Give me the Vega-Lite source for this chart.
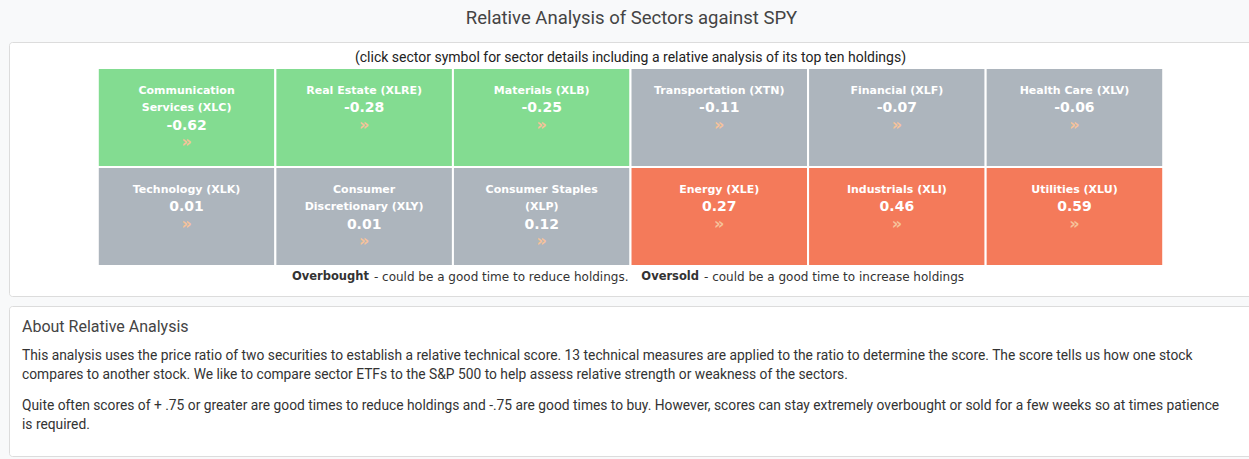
{
  "$schema": "https://vega.github.io/schema/vega-lite/v6.json",
  "background": "#f8f9fa",
  "padding": {"left": 8, "top": 9, "right": 0, "bottom": 4},
  "title": {"text": "Relative Analysis of Sectors against SPY", "font": "Roboto", "fontSize": 18.5, "fontWeight": "normal", "color": "#444444", "anchor": "middle", "offset": 14},
  "config": {
    "view": {"fill": "white", "stroke": "#dcdcdc", "cornerRadius": 3},
    "locale": {"number": {"decimal": ".", "thousands": ",", "grouping": [3], "currency": ["$", ""], "minus": "-"}}
  },
  "datasets": {
    "sectors": [
      {"ticker": "XLC", "name": "Communication\nServices (XLC)", "nameLines": 2, "score": -0.62, "row": 1, "col": 0},
      {"ticker": "XLRE", "name": "Real Estate (XLRE)", "nameLines": 1, "score": -0.28, "row": 1, "col": 1},
      {"ticker": "XLB", "name": "Materials (XLB)", "nameLines": 1, "score": -0.25, "row": 1, "col": 2},
      {"ticker": "XTN", "name": "Transportation (XTN)", "nameLines": 1, "score": -0.11, "row": 1, "col": 3},
      {"ticker": "XLF", "name": "Financial (XLF)", "nameLines": 1, "score": -0.07, "row": 1, "col": 4},
      {"ticker": "XLV", "name": "Health Care (XLV)", "nameLines": 1, "score": -0.06, "row": 1, "col": 5},
      {"ticker": "XLK", "name": "Technology (XLK)", "nameLines": 1, "score": 0.01, "row": 2, "col": 0},
      {"ticker": "XLY", "name": "Consumer\nDiscretionary (XLY)", "nameLines": 2, "score": 0.01, "row": 2, "col": 1},
      {"ticker": "XLP", "name": "Consumer Staples\n(XLP)", "nameLines": 2, "score": 0.12, "row": 2, "col": 2},
      {"ticker": "XLE", "name": "Energy (XLE)", "nameLines": 1, "score": 0.27, "row": 2, "col": 3},
      {"ticker": "XLI", "name": "Industrials (XLI)", "nameLines": 1, "score": 0.46, "row": 2, "col": 4},
      {"ticker": "XLU", "name": "Utilities (XLU)", "nameLines": 1, "score": 0.59, "row": 2, "col": 5}
    ],
    "notes": [
      {"part": "subtitle", "text": "(click sector symbol for sector details including a relative analysis of its top ten holdings)"},
      {"part": "ob", "text": "Overbought"},
      {"part": "obText", "text": "- could be a good time to reduce holdings."},
      {"part": "os", "text": "Oversold"},
      {"part": "osText", "text": "- could be a good time to increase holdings"}
    ],
    "about": [
      {"section": "about", "block": "heading", "text": "About Relative Analysis"},
      {"section": "about", "block": "p1", "text": "This analysis uses the price ratio of two securities to establish a relative technical score. 13 technical measures are applied to the ratio to determine the score. The score tells us how one stock\ncompares to another stock. We like to compare sector ETFs to the S&P 500 to help assess relative strength or weakness of the sectors."},
      {"section": "about", "block": "p2", "text": "Quite often scores of + .75 or greater are good times to reduce holdings and -.75 are good times to buy. However, scores can stay extremely overbought or sold for a few weeks so at times patience\nis required."}
    ]
  },
  "spacing": 8,
  "vconcat": [
    {
      "width": 1243,
      "height": 254,
      "layer": [
        {
          "data": {"name": "sectors"},
          "mark": {"type": "rect", "stroke": "white", "strokeWidth": 2},
          "encoding": {
            "x": {"field": "col", "type": "ordinal", "axis": null, "scale": {"type": "band", "domain": [0, 1, 2, 3, 4, 5], "paddingInner": 0, "paddingOuter": 0.5}},
            "y": {"field": "row", "type": "ordinal", "axis": null, "scale": {"type": "band", "domain": [1, 2], "paddingInner": 0, "paddingOuter": 0.2828, "align": 0.464}},
            "color": {"field": "score", "type": "quantitative", "legend": null, "scale": {"type": "threshold", "domain": [-0.2, 0.2], "range": ["#83dc91", "#adb5bd", "#f47a5a"]}}
          }
        },
        {
          "data": {"name": "sectors"},
          "mark": {"type": "text", "font": "DejaVu Sans", "fontWeight": "bold", "fontSize": 11, "fill": "white", "lineBreak": "\n", "lineHeight": 17.3, "baseline": "alphabetic", "align": "center"},
          "encoding": {
            "x": {"field": "col", "type": "ordinal"},
            "y": {"field": "row", "type": "ordinal", "bandPosition": 0.263},
            "text": {"field": "name", "type": "nominal"}
          }
        },
        {
          "data": {"name": "sectors"},
          "transform": [{"filter": "datum.nameLines === 1"}],
          "mark": {"type": "text", "font": "DejaVu Sans", "fontWeight": "bold", "fontSize": 14, "fill": "white", "baseline": "middle", "align": "center"},
          "encoding": {
            "x": {"field": "col", "type": "ordinal"},
            "y": {"field": "row", "type": "ordinal", "bandPosition": 0.402},
            "text": {"field": "score", "type": "quantitative", "format": ".2f"}
          }
        },
        {
          "data": {"name": "sectors"},
          "transform": [{"filter": "datum.nameLines === 2"}],
          "mark": {"type": "text", "font": "DejaVu Sans", "fontWeight": "bold", "fontSize": 14, "fill": "white", "baseline": "middle", "align": "center"},
          "encoding": {
            "x": {"field": "col", "type": "ordinal"},
            "y": {"field": "row", "type": "ordinal", "bandPosition": 0.584},
            "text": {"field": "score", "type": "quantitative", "format": ".2f"}
          }
        },
        {
          "data": {"name": "sectors"},
          "transform": [{"filter": "datum.nameLines === 1"}],
          "mark": {"type": "text", "font": "DejaVu Sans", "fontWeight": "bold", "fontSize": 16, "fill": "#f6c29a", "baseline": "middle", "align": "center"},
          "encoding": {
            "x": {"field": "col", "type": "ordinal"},
            "y": {"field": "row", "type": "ordinal", "bandPosition": 0.576},
            "text": {"value": "»"}
          }
        },
        {
          "data": {"name": "sectors"},
          "transform": [{"filter": "datum.nameLines === 2"}],
          "mark": {"type": "text", "font": "DejaVu Sans", "fontWeight": "bold", "fontSize": 16, "fill": "#f6c29a", "baseline": "middle", "align": "center"},
          "encoding": {
            "x": {"field": "col", "type": "ordinal"},
            "y": {"field": "row", "type": "ordinal", "bandPosition": 0.747},
            "text": {"value": "»"}
          }
        },
        {
          "data": {"name": "notes"},
          "transform": [{"filter": "datum.part === 'subtitle'"}],
          "mark": {"type": "text", "font": "Roboto", "fontSize": 14, "fill": "#222222", "baseline": "middle", "align": "center"},
          "encoding": {
            "x": {"datum": 3, "type": "ordinal", "bandPosition": 0},
            "y": {"datum": 1, "type": "ordinal", "bandPosition": -0.101},
            "text": {"field": "text", "type": "nominal"}
          }
        },
        {
          "data": {"name": "notes"},
          "transform": [{"filter": "datum.part === 'ob'"}],
          "mark": {"type": "text", "font": "DejaVu Sans", "fontWeight": "bold", "fontSize": 11.5, "fill": "#333333", "baseline": "middle", "align": "right"},
          "encoding": {
            "x": {"datum": 1, "type": "ordinal", "bandPosition": 0.527},
            "y": {"datum": 2, "type": "ordinal", "bandPosition": 1.111},
            "text": {"field": "text", "type": "nominal"}
          }
        },
        {
          "data": {"name": "notes"},
          "transform": [{"filter": "datum.part === 'obText'"}],
          "mark": {"type": "text", "font": "DejaVu Sans", "fontSize": 12, "fill": "#333333", "baseline": "middle", "align": "left"},
          "encoding": {
            "x": {"datum": 1, "type": "ordinal", "bandPosition": 0.555},
            "y": {"datum": 2, "type": "ordinal", "bandPosition": 1.111},
            "text": {"field": "text", "type": "nominal"}
          }
        },
        {
          "data": {"name": "notes"},
          "transform": [{"filter": "datum.part === 'os'"}],
          "mark": {"type": "text", "font": "DejaVu Sans", "fontWeight": "bold", "fontSize": 11.5, "fill": "#333333", "baseline": "middle", "align": "right"},
          "encoding": {
            "x": {"datum": 3, "type": "ordinal", "bandPosition": 0.386},
            "y": {"datum": 2, "type": "ordinal", "bandPosition": 1.111},
            "text": {"field": "text", "type": "nominal"}
          }
        },
        {
          "data": {"name": "notes"},
          "transform": [{"filter": "datum.part === 'osText'"}],
          "mark": {"type": "text", "font": "DejaVu Sans", "fontSize": 12, "fill": "#333333", "baseline": "middle", "align": "left"},
          "encoding": {
            "x": {"datum": 3, "type": "ordinal", "bandPosition": 0.414},
            "y": {"datum": 2, "type": "ordinal", "bandPosition": 1.111},
            "text": {"field": "text", "type": "nominal"}
          }
        }
      ]
    },
    {
      "width": 1245,
      "height": 150,
      "data": {"name": "about"},
      "layer": [
        {
          "transform": [{"filter": "datum.block === 'heading'"}],
          "mark": {"type": "text", "font": "Roboto", "fontSize": 16, "fill": "#444444", "baseline": "alphabetic", "align": "left"},
          "encoding": {
            "x": {"field": "section", "type": "nominal", "axis": null, "bandPosition": 0, "scale": {"type": "band", "paddingInner": 0, "paddingOuter": 0.01066}},
            "y": {"field": "block", "type": "nominal", "axis": null, "bandPosition": 0.52, "scale": {"type": "band", "domain": ["heading", "p1", "p2"], "paddingInner": 0, "paddingOuter": 0}},
            "text": {"field": "text", "type": "nominal"}
          }
        },
        {
          "transform": [{"filter": "datum.block !== 'heading'"}],
          "mark": {"type": "text", "font": "Roboto", "fontSize": 13.8, "fill": "#333333", "baseline": "alphabetic", "align": "left", "lineBreak": "\n", "lineHeight": 19},
          "encoding": {
            "x": {"field": "section", "type": "nominal", "bandPosition": 0},
            "y": {"field": "block", "type": "nominal", "bandPosition": 0.07},
            "text": {"field": "text", "type": "nominal"}
          }
        }
      ]
    }
  ]
}
